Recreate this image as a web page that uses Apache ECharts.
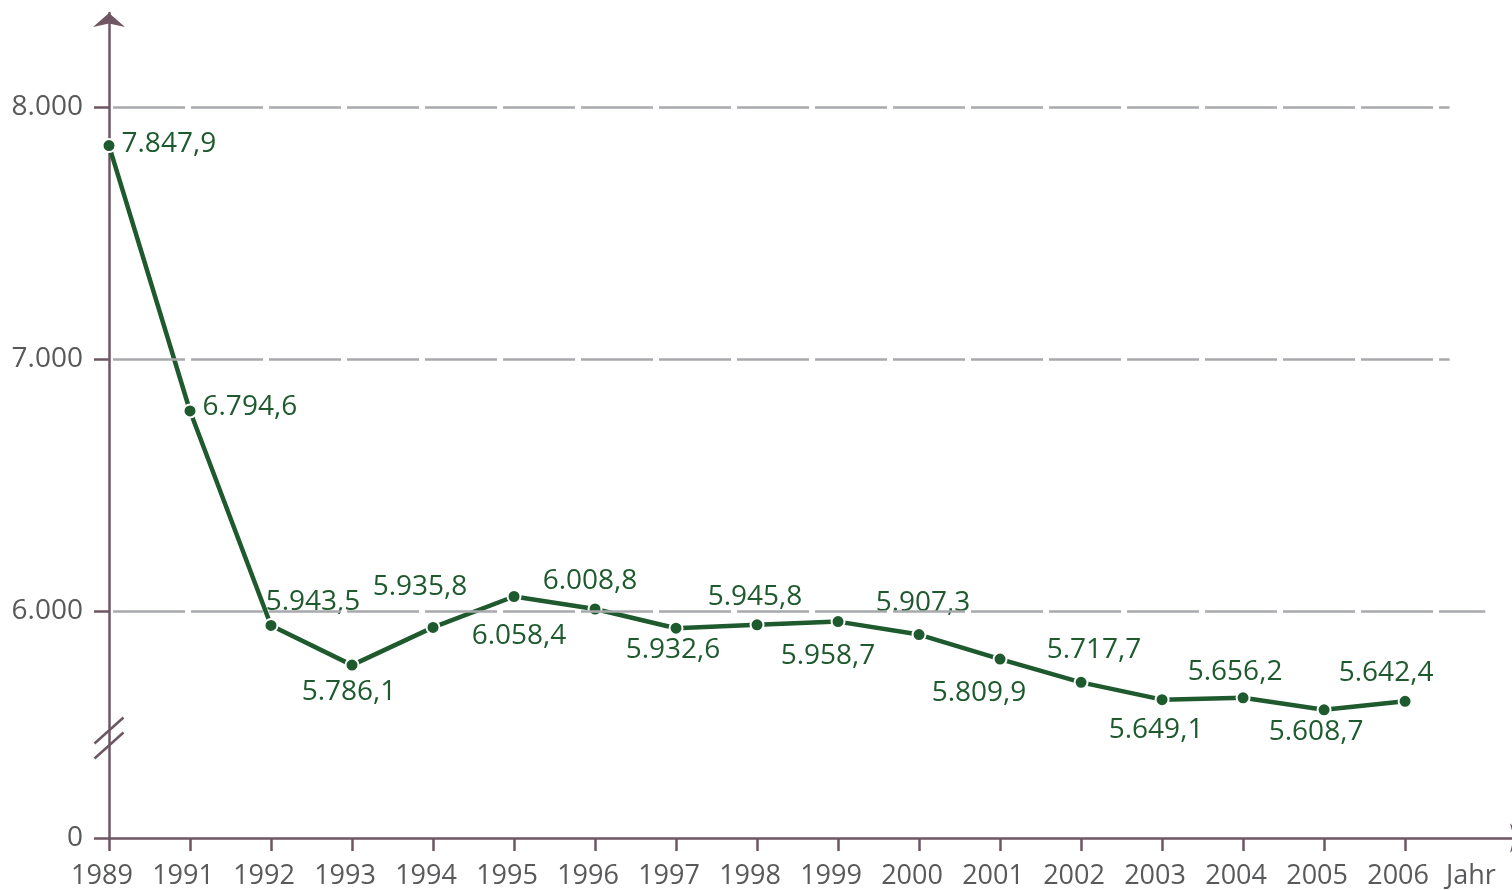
<!DOCTYPE html>
<html>
<head>
<meta charset="utf-8">
<script src="https://cdn.jsdelivr.net/npm/echarts@6/dist/echarts.min.js"></script>
<style>
html,body{margin:0;padding:0;background:#fff;}
#main{width:1512px;height:890px;}
</style>
</head>
<body>
<div id="main"></div>
<script>
// data
var years = ['1989','1991','1992','1993','1994','1995','1996','1997','1998','1999','2000','2001','2002','2003','2004','2005','2006'];
var values = [7847.9, 6794.6, 5943.5, 5786.1, 5935.8, 6058.4, 6008.8, 5932.6, 5945.8, 5958.7, 5907.3, 5809.9, 5717.7, 5649.1, 5656.2, 5608.7, 5642.4];
var yZero = 5100;               // where the broken axis shows "0"
var yTickValues = [yZero, 6000, 7000, 8000];
var yTickLabels = ['0', '6.000', '7.000', '8.000'];
var xUnit = 'Jahr';

// label placement per point
var labelPos = ['right','right','top','bottom','top','bottom','top','bottom','top','bottom','top','bottom','top','bottom','top','bottom','top'];
var labelOff = [[0,-2],[0,-4],[42,3],[-3,0],[-13,-14],[5,13],[-5,-1],[-3,-5],[-2,-1],[-10,8],[4,-5],[-21,7],[13,-6],[-6,4],[-8,1],[-8,-4],[-19,-2]];

var axisColor = '#6e5763';
var green = '#1e5a2e';
var font = '"Open Sans", "Noto Sans", sans-serif';

function fmt(v) {
    var p = v.toFixed(1).split('.');
    return p[0].replace(/\B(?=(\d{3})+(?!\d))/g, '.') + ',' + p[1];
}

var seriesData = values.map(function (v, i) {
    return {
        value: [i, v],
        label: {position: labelPos[i], offset: labelOff[i]}
    };
});

var xIdx = years.map(function (y, i) { return i; });

var gridLines = [
    [{coord: [0.05, 8000]}, {coord: [16.55, 8000]}],
    [{coord: [0.05, 7000]}, {coord: [16.55, 7000]}],
    [{coord: [0.05, 6000]}, {coord: [16.99, 6000]}]
];

var chart = echarts.init(document.getElementById('main'));
var option = {
    animation: false,
    grid: {left: 109, right: 0, top: 13, bottom: 52},
    xAxis: {
        type: 'value',
        min: 0,
        max: 17.32,
        axisLine: {
            onZero: false,
            symbol: ['none', 'arrow'],
            symbolSize: [22, 16],
            symbolOffset: [0, 14],
            lineStyle: {color: axisColor, width: 2.5}
        },
        axisTick: {customValues: xIdx, length: 13, lineStyle: {color: axisColor, width: 2.5}},
        axisLabel: {
            customValues: xIdx.concat([16.9]),
            formatter: function (v) { return v > 16.5 && v < 17 ? xUnit : years[Math.round(v)]; },
            color: '#58595b',
            fontFamily: font,
            fontSize: 27,
            margin: 25,
            padding: [0, 14, 0, 0]
        },
        splitLine: {show: false}
    },
    yAxis: {
        type: 'value',
        min: yZero,
        max: 8374,
        axisLine: {
            show: true,
            symbol: ['none', 'arrow'],
            symbolSize: [24, 14],
            lineStyle: {color: axisColor, width: 2.5}
        },
        axisTick: {show: true, customValues: yTickValues, length: 15, lineStyle: {color: axisColor, width: 2.5}},
        axisLabel: {
            customValues: yTickValues,
            formatter: function (v) { return yTickLabels[yTickValues.indexOf(v)]; },
            color: '#58595b',
            fontFamily: font,
            fontSize: 28,
            margin: 26
        },
        splitLine: {show: false}
    },
    series: [
        {
            type: 'line',
            data: [],
            z: 1,
            silent: true,
            markLine: {
                silent: true,
                symbol: ['none', 'none'],
                label: {show: false},
                lineStyle: {color: '#a7a9ac', width: 2.5, type: [72, 6]},
                data: gridLines
            }
        },
        {
            type: 'line',
            z: 3,
            data: seriesData,
            symbol: 'circle',
            symbolSize: 13,
            itemStyle: {color: green, borderColor: '#fff', borderWidth: 2},
            lineStyle: {color: green, width: 4.5},
            label: {
                show: true,
                color: green,
                fontFamily: font,
                fontSize: 28,
                formatter: function (p) { return fmt(p.value[1]); }
            }
        }
    ]
};
chart.setOption(option);

// axis break marks
var b = chart.convertToPixel({gridIndex: 0}, [0, 5497]);
chart.setOption({
    graphic: [-7.5, 7.5].map(function (d) {
        return {
            type: 'line',
            shape: {x1: b[0] - 14.5, y1: b[1] + d + 13, x2: b[0] + 14.5, y2: b[1] + d - 13},
            style: {stroke: axisColor, lineWidth: 2.5},
            z: 10
        };
    })
});
window.onresize = chart.resize;
</script>
</body>
</html>
